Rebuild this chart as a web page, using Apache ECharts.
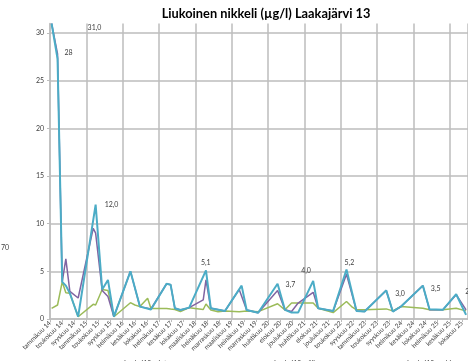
<!DOCTYPE html>
<html>
<head>
<meta charset="utf-8">
<script src="https://cdn.jsdelivr.net/npm/echarts@6/dist/echarts.min.js"></script>
<style>
html,body{margin:0;padding:0;background:#fff;}
#c{width:468px;height:361px;}
</style>
</head>
<body>
<div id="c"></div>
<script>
// ---- data ----
const sampleDates = [
 '2014-01-17','2014-03-16','2014-05-02','2014-06-08','2014-07-18','2014-10-10',
 '2015-03-09','2015-04-03','2015-06-08','2015-08-05','2015-10-04',
 '2016-03-18','2016-05-02','2016-06-22','2016-09-08','2016-10-11',
 '2017-03-16','2017-04-26','2017-06-08','2017-08-03','2017-10-30',
 '2018-03-19','2018-04-16','2018-06-04','2018-08-16','2018-10-24',
 '2019-03-15','2019-04-09','2019-05-29','2019-09-23',
 '2020-04-05','2020-06-18','2020-08-24','2020-10-29',
 '2021-03-28','2021-05-17','2021-10-16',
 '2022-02-28','2022-04-18','2022-06-07','2022-08-27',
 '2023-04-01','2023-06-06','2023-08-28',
 '2024-04-04','2024-06-10','2024-10-22',
 '2025-03-04','2025-06-12'
];
const pinta = [
 1.12,1.47,3.9,2.76,2.7,0.24,
 1.54,1.47,3.1,3.0,0.24,
 1.71,1.47,1.3,2.17,1.1,
 1.1,1.05,1.0,0.77,1.19,
 1.0,1.57,0.94,0.77,0.84,
 0.77,null,0.84,0.77,
 1.6,0.96,1.67,1.67,
 1.67,1.13,0.67,
 1.84,1.31,0.96,0.96,
 1.06,0.85,1.31,
 1.13,0.96,0.96,
 1.13,0.85
];
const vali = [
 31.0,27.8,3.9,6.3,2.9,2.2,
 9.5,9.0,3.0,2.35,0.24,
 5.0,null,1.3,null,1.05,
 3.7,3.6,1.12,0.94,1.19,
 2.0,4.1,1.12,null,0.84,
 3.1,null,0.94,0.66,
 3.0,0.96,0.78,1.67,
 2.8,1.13,0.85,
 4.7,null,0.85,0.78,
 3.0,0.78,1.31,
 3.5,0.96,0.96,
 2.55,0.96
];
const pohja = [
 31.0,27.3,3.9,3.5,2.7,0.24,
 null,12.0,3.1,4.1,0.24,
 5.0,null,1.3,null,1.0,
 3.7,3.6,1.12,0.94,1.19,
 null,5.1,1.12,null,0.84,
 null,3.5,0.94,0.66,
 3.7,0.96,0.67,0.67,
 4.0,1.13,0.85,
 5.2,null,0.85,0.78,
 3.0,0.78,1.31,
 3.5,1.03,0.96,
 2.6,0.43
];
const tickLabels = [
 'tammikuu 14','toukokuu 14','syyskuu 14','tammikuu 15','toukokuu 15','syyskuu 15',
 'helmikuu 16','kesäkuu 16','lokakuu 16','helmikuu 17','kesäkuu 17','lokakuu 17',
 'maaliskuu 18','heinäkuu 18','marraskuu 18','maaliskuu 19','heinäkuu 19','marraskuu 19',
 'huhtikuu 20','elokuu 20','joulukuu 20','huhtikuu 21','elokuu 21','joulukuu 21',
 'toukokuu 22','syyskuu 22','tammikuu 23','toukokuu 23','syyskuu 23','helmikuu 24',
 'kesäkuu 24','lokakuu 24','helmikuu 25','kesäkuu 25','lokakuu 25'
];
const seriesNames = ['Laakaj13_pinta','Laakaj13_väli','Laakaj13_pohja'];
const titleText = 'Liukoinen nikkeli (µg/l) Laakajärvi 13';
const pohjaLabelIdx = [0,7,22,30,34,37,41,44,47];
const valiLabelIdx = [1];

// ---- layout / style ----
const FONT = 'Lato, "Liberation Sans", sans-serif';
// label box top-left relative to the data point
const labelPos = {
  0:[36,1],
  1:[7,-5],
  7:[9,-3],
  22:[-5,-11],
  30:[8,-2],
  34:[-12,-14],
  37:[-2,-10],
  41:[9,0],
  44:[8,0],
  47:[9,-6]
};
function monthIndex(d){
  const p = d.split('-').map(Number);
  return (p[0]-2014)*12 + (p[1]-1) + (p[2]-1)/30.5;
}
const fmtComma = v => v.toFixed(1).replace('.', ',');
function build(vals, labelIdx, fmt){
  return vals.map((v,i)=>{
    const item = {value:[monthIndex(sampleDates[i]), v]};
    if (labelIdx.indexOf(i) >= 0) {
      item.label = {show:true, position:labelPos[i] || [4,-4],
        formatter: p => fmt(p.value[1]), fontSize:7, color:'#404040', fontFamily:FONT};
    }
    return item;
  });
}
const chart = echarts.init(document.getElementById('c'), null, {renderer:'canvas'});
const gridCol = '#bdbdbd';
const lineSeries = (name, data, color, width, z, extra) => Object.assign({
  name, type:'line', data, connectNulls:true, symbol:'circle', symbolSize:0.01,
  showSymbol:true, lineStyle:{color, width}, itemStyle:{color}, z,
  emphasis:{disabled:true}, labelLayout:{hideOverlap:false}
}, extra||{});
chart.setOption({
  animation:false,
  backgroundColor:'#fff',
  title:{text:titleText, left:261, top:2, textAlign:'center',
    textStyle:{fontSize:12.8, fontWeight:'bold', color:'#000', fontFamily:FONT}},
  grid:{left:50, right:0, top:23.5, bottom:42, containLabel:false},
  legend:[
    {data:[seriesNames[0]], left:100, top:355},
    {data:[seriesNames[1]], left:250, top:355},
    {data:[seriesNames[2]], left:383, top:355}
  ].map(l=>Object.assign(l,{icon:'rect', itemWidth:16, itemHeight:2, itemGap:3,
     textStyle:{fontSize:7, color:'#404040', fontFamily:FONT, padding:[0,0,0,-2]}})),
  graphic:[{type:'text', left:1, top:244, style:{text:'70', fontSize:7, fill:'#404040', fontFamily:FONT}}],
  xAxis:[
    {type:'value', min:0, max:138, interval:4,
     axisLine:{show:true, onZero:false, lineStyle:{color:gridCol, width:1.5}},
     axisTick:{show:true, length:3, lineStyle:{color:gridCol}},
     splitLine:{show:false},
     axisLabel:{rotate:45, fontSize:6.5, color:'#404040', fontFamily:FONT, margin:3,
       showMaxLabel:false,
       formatter: v => { const k = Math.round(v/4); return tickLabels[k] || ''; }}},
    {type:'value', min:0, max:138, interval:12, position:'top',
     axisLine:{show:false}, axisTick:{show:false}, axisLabel:{show:false},
     splitLine:{show:true, lineStyle:{color:gridCol, width:1.5}}}
  ],
  yAxis:{type:'value', min:0, max:31, interval:5,
    axisLine:{show:true, lineStyle:{color:gridCol, width:1.5}},
    axisTick:{show:true, length:3, lineStyle:{color:gridCol}},
    axisLabel:{fontSize:7, color:'#404040', fontFamily:FONT, margin:6, showMaxLabel:false},
    splitLine:{show:true, showMaxLine:false, lineStyle:{color:gridCol, width:1.5}}},
  series:[
    lineSeries(seriesNames[0], build(pinta,[],fmtComma), '#9BBB59', 1.5, 2),
    lineSeries(seriesNames[1], build(vali,valiLabelIdx,v=>String(Math.round(v))), '#8064A2', 1.5, 3),
    lineSeries(seriesNames[2], build(pohja,pohjaLabelIdx,fmtComma), '#4BACC6', 2, 4)
  ]
});
</script>
</body>
</html>
